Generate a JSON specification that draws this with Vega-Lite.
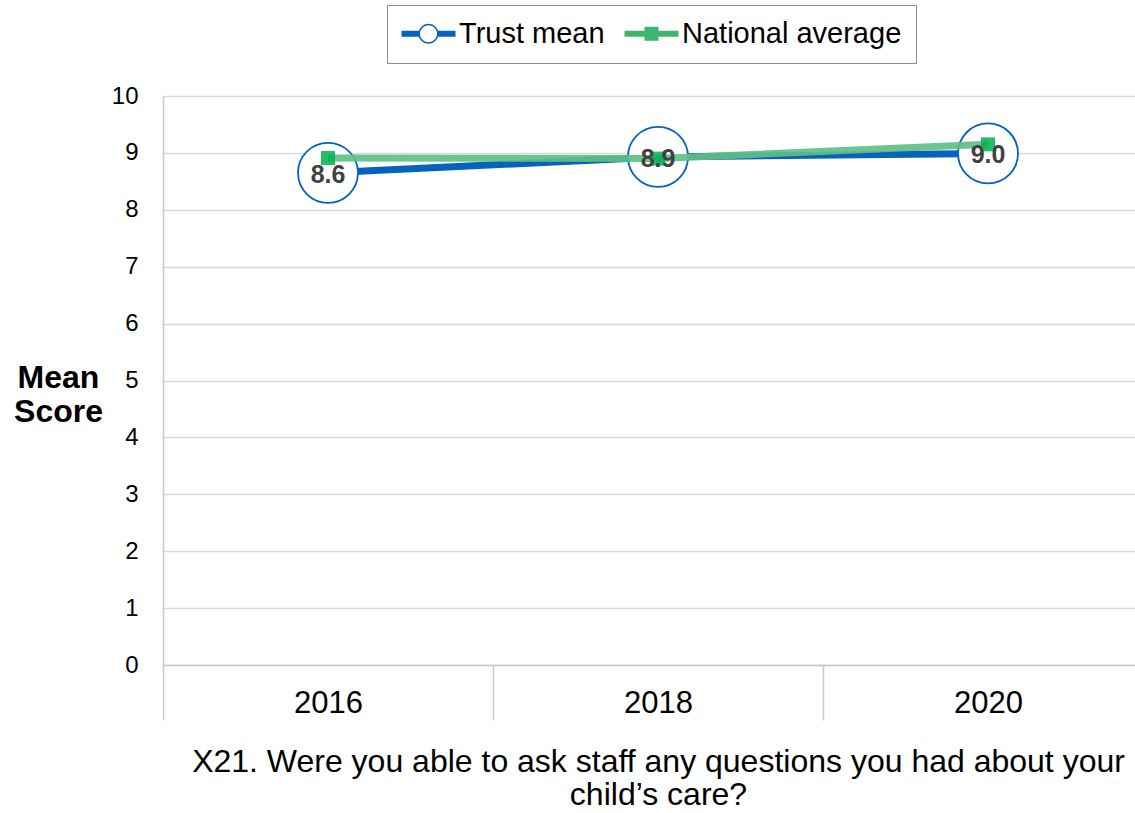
{
  "$schema": "https://vega.github.io/schema/vega-lite/v6.json",
  "width": 972,
  "height": 569,
  "autosize": {"type": "none"},
  "padding": {"left": 163, "top": 96, "right": 0, "bottom": 148},
  "background": "white",
  "config": {"view": {"stroke": null}, "font": "Liberation Sans"},
  "data": {
    "values": [
      {"year": "2016", "series": "Trust mean", "value": 8.65, "label": "8.6"},
      {"year": "2018", "series": "Trust mean", "value": 8.93, "label": "8.9"},
      {"year": "2020", "series": "Trust mean", "value": 8.99, "label": "9.0"},
      {"year": "2016", "series": "National average", "value": 8.91, "label": "8.9"},
      {"year": "2018", "series": "National average", "value": 8.9, "label": "8.9"},
      {"year": "2020", "series": "National average", "value": 9.15, "label": "9.2"}
    ]
  },
  "encoding": {
    "x": {
      "field": "year",
      "type": "ordinal",
      "scale": {"type": "band", "paddingInner": 0, "paddingOuter": 0, "range": [0, 990]},
      "axis": {
        "title": ["X21. Were you able to ask staff any questions you had about your", "child’s care?"],
        "titleFontSize": 32,
        "titleFontWeight": "normal",
        "titleColor": "black",
        "titlePadding": 26,
        "titleLineHeight": 33,
        "labelFontSize": 31,
        "labelColor": "black",
        "labelAngle": 0,
        "labelPadding": -17,
        "labelBaseline": "middle",
        "tickBand": "extent",
        "tickSize": 55,
        "tickColor": "#C8C8C8",
        "tickWidth": 1.5,
        "domainColor": "#C8C8C8",
        "domainWidth": 1.5,
        "grid": false
      }
    },
    "y": {
      "field": "value",
      "type": "quantitative",
      "scale": {"domain": [0, 10], "nice": false},
      "axis": {
        "title": ["Mean", "Score"],
        "titleAngle": 0,
        "titleFontSize": 32,
        "titleFontWeight": "bold",
        "titleColor": "black",
        "titleAlign": "center",
        "titleBaseline": "middle",
        "titleX": -105,
        "titleY": 281,
        "titleLineHeight": 34,
        "labelFontSize": 24,
        "labelColor": "black",
        "labelPadding": 25,
        "ticks": false,
        "values": [0, 1, 2, 3, 4, 5, 6, 7, 8, 9, 10],
        "grid": true,
        "gridColor": "#D9D9D9",
        "gridWidth": 1.3,
        "domainColor": "#C8C8C8",
        "domainWidth": 1.5
      }
    }
  },
  "layer": [
    {
      "data": {"values": [{}]},
      "mark": {"type": "rule", "color": "#C8C8C8", "strokeWidth": 1.5, "clip": false},
      "encoding": {
        "x": {"datum": "2016", "type": "ordinal", "bandPosition": 0},
        "y": {"datum": 0, "type": "quantitative"},
        "y2": {"datum": -2.6}
      }
    },
    {
      "transform": [{"filter": "datum.series === 'Trust mean'"}],
      "mark": {"type": "line", "color": "#0562BE", "strokeWidth": 7}
    },
    {
      "transform": [{"filter": "datum.series === 'Trust mean'"}],
      "mark": {"type": "point", "shape": "circle", "size": 3600, "filled": true, "fill": "white", "stroke": "#0562BE", "strokeWidth": 1.8, "opacity": 1}
    },
    {
      "transform": [{"filter": "datum.series === 'National average'"}],
      "mark": {"type": "line", "color": "#60BF86", "strokeWidth": 7, "opacity": 0.92}
    },
    {
      "transform": [{"filter": "datum.series === 'National average'"}],
      "mark": {"type": "point", "shape": "square", "size": 196, "filled": true, "color": "#00B050", "opacity": 0.85}
    },
    {
      "transform": [{"filter": "datum.series === 'Trust mean'"}],
      "mark": {"type": "text", "fontSize": 25, "fontWeight": "bold", "color": "#404040", "align": "center", "baseline": "middle", "dy": 2},
      "encoding": {"text": {"field": "label"}}
    },
    {
      "mark": {"type": "point", "filled": true, "opacity": 0, "size": 4},
      "encoding": {
        "color": {
          "field": "series",
          "type": "nominal",
          "scale": {"domain": ["Trust mean", "National average"], "range": ["#0562BE", "#3DB571"]},
          "legend": {
            "title": null, "orient": "none", "legendX": 224, "legendY": -91, "direction": "horizontal",
            "padding": 14, "strokeColor": "#8C8C8C", "labelFontSize": 29, "labelColor": "black",
            "labelFont": "Liberation Sans", "labelLimit": 400, "symbolSize": 4, "symbolOpacity": 1, "symbolStrokeWidth": 0,
            "symbolOffset": -14, "labelOffset": 43, "columnPadding": 19
          }
        },
        "shape": {
          "field": "series",
          "type": "nominal",
          "scale": {
            "domain": ["Trust mean", "National average"],
            "range": [
              "M0,-3H18V3H0Z M36,-3H54V3H36Z M17,0A10,10 0 1,1 37,0A10,10 0 1,1 17,0Z M18.5,0A8.5,8.5 0 1,0 35.5,0A8.5,8.5 0 1,0 18.5,0Z",
              "M0,-3H54V3H0Z M20,-7H34V7H20Z"
            ]
          },
          "legend": {
            "title": null, "orient": "none", "legendX": 224, "legendY": -91, "direction": "horizontal",
            "padding": 14, "strokeColor": "#8C8C8C", "labelFontSize": 29, "labelColor": "black",
            "labelFont": "Liberation Sans", "labelLimit": 400, "symbolSize": 4, "symbolOpacity": 1, "symbolStrokeWidth": 0,
            "symbolOffset": -14, "labelOffset": 43, "columnPadding": 19
          }
        }
      }
    }
  ]
}
